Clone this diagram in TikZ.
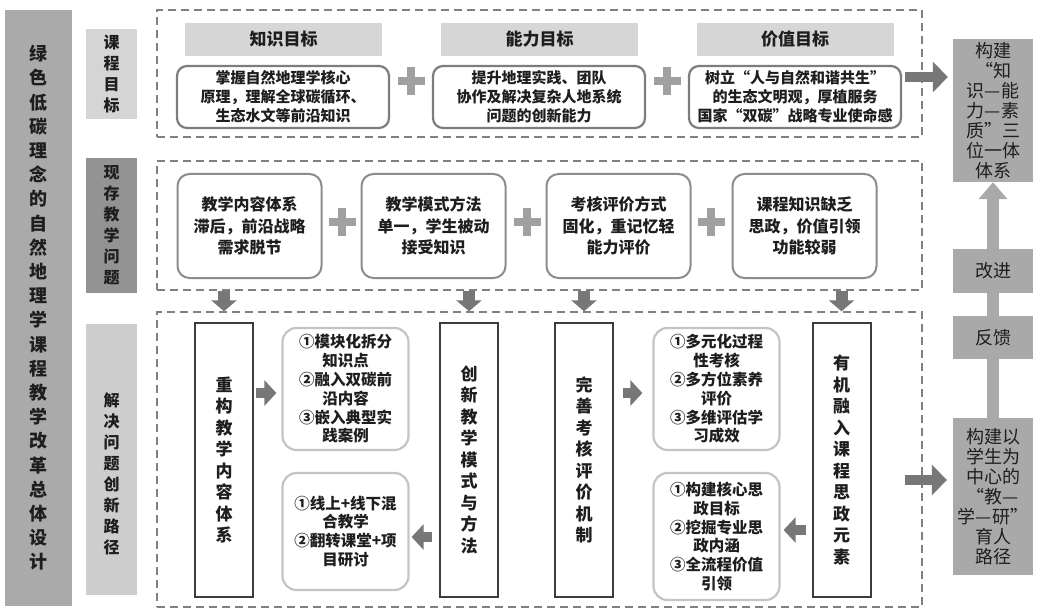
\documentclass[tikz,border=0pt]{standalone}
\usepackage{fontspec}
\setmainfont{Noto Sans CJK SC}
\usetikzlibrary{arrows.meta}
\definecolor{cleft}{HTML}{AAAAAA}
\definecolor{clabA}{HTML}{D5D5D5}
\definecolor{clabB}{HTML}{939393}
\definecolor{clabC}{HTML}{CDCDCD}
\definecolor{chdr}{HTML}{D6D6D6}
\definecolor{cgb}{HTML}{7D7D7D}
\definecolor{cpb}{HTML}{8C8C8C}
\definecolor{csb}{HTML}{C4C4C4}
\definecolor{ctb}{HTML}{3C3C3C}
\definecolor{crc}{HTML}{A9A9A9}
\definecolor{carr}{HTML}{777777}
\definecolor{cdash}{HTML}{808080}
\definecolor{cplus}{HTML}{A0A0A0}
\definecolor{ctxt}{HTML}{1E1E1E}
\begin{document}
\begin{tikzpicture}[x=1pt,y=-1pt,
  every node/.style={inner sep=0pt, align=center, text=ctxt},
  dbox/.style={draw=cdash, line width=1.4pt, dash pattern=on 8pt off 5pt, minimum width=765pt},
  lab/.style={minimum width=51pt, font=\bfseries\fontsize{16}{21}\selectfont},
  hdr/.style={fill=chdr, minimum width=197pt, minimum height=33pt, font=\bfseries\fontsize{17}{20}\selectfont},
  gbox/.style={draw=cgb, line width=2.2pt, fill=white, rounded corners=10pt, minimum width=212pt, minimum height=62pt, font=\bfseries\fontsize{15}{19}\selectfont},
  pbox/.style={draw=cpb, line width=2pt, fill=white, rounded corners=12pt, minimum width=144pt, minimum height=104pt, font=\bfseries\fontsize{16}{21.5}\selectfont},
  sbox/.style={draw=csb, line width=2.2pt, fill=white, rounded corners=14pt, minimum width=126pt, font=\bfseries\fontsize{15.5}{18.8}\selectfont},
  tbox/.style={draw=ctb, line width=2pt, fill=white, minimum width=58pt, minimum height=274pt, font=\bfseries\fontsize{17}{21.5}\selectfont},
  rbox/.style={fill=crc, minimum width=80pt, font=\fontsize{18}{20}\selectfont},
  darr/.style={draw=carr, line width=12pt, -{Triangle[width=25pt,length=11pt]}},
  sarr/.style={draw=carr, line width=10pt, -{Triangle[width=25pt,length=12pt]}},
  barr/.style={draw=carr, line width=10pt, -{Triangle[width=30pt,length=15pt]}},
  varr/.style={draw=crc, line width=12pt},
  pics/plusmark/.style={code={
    \fill[cplus] (-13.5,-4.2) rectangle (13.5,4.2);
    \fill[cplus] (-4.2,-14) rectangle (4.2,14);}}
]
\fill[white] (0,0) rectangle (1040,612);
\useasboundingbox (0,0) rectangle (1040,612);

% left column
\node[fill=cleft, minimum width=67pt, minimum height=596pt, font=\bfseries\fontsize{18}{24.2}\selectfont] (L) at (38.5,308)
 {绿\\色\\低\\碳\\理\\念\\的\\自\\然\\地\\理\\学\\课\\程\\教\\学\\改\\革\\总\\体\\设\\计};
\node[lab, fill=clabA, minimum height=90pt] (K1) at (111.5,74) {课\\程\\目\\标};
\node[lab, fill=clabB, minimum height=135pt] (K2) at (111.5,225.5) {现\\存\\教\\学\\问\\题};
\node[lab, fill=clabC, minimum height=271pt] (K3) at (111.5,459.5) {};
\node[lab] (K3t) at (111.5,473.5) {解\\决\\问\\题\\创\\新\\路\\径};

% dashed frames
\node[dbox, minimum height=127pt] (D1) at (539.5,73.5) {};
\node[dbox, minimum height=129pt] (D2) at (539.5,225.5) {};
\node[dbox, minimum height=295pt] (D3) at (539.5,459.5) {};

% row 1
\node[hdr] (H1) at (283.5,39.5) {知识目标};
\node[hdr] (H2) at (539.5,39.5) {能力目标};
\node[hdr] (H3) at (795,39.5) {价值目标};
\node[gbox] (G1) at (283,97) {掌握自然地理学核心\\原理，理解全球碳循环、\\生态水文等前沿知识};
\node[gbox] (G2) at (539,97) {提升地理实践、团队\\协作及解决复杂人地系统\\问题的创新能力};
\node[gbox] (G3) at (795,97) {树立“人与自然和谐共生”\\的生态文明观，厚植服务\\国家“双碳”战略专业使命感};
\pic at (411,81) {plusmark};
\pic at (667,81) {plusmark};

% row 2
\node[pbox] (B1) at (249.5,226) {教学内容体系\\滞后，前沿战略\\需求脱节};
\node[pbox] (B2) at (433.5,226) {教学模式方法\\单一，学生被动\\接受知识};
\node[pbox] (B3) at (618.5,226) {考核评价方式\\固化，重记忆轻\\能力评价};
\node[pbox] (B4) at (804.5,226) {课程知识缺乏\\思政，价值引领\\功能较弱};
\pic at (342,222) {plusmark};
\pic at (527,222) {plusmark};
\pic at (711,222) {plusmark};

% row 3
\node[tbox] (T1) at (224,460) {重\\构\\教\\学\\内\\容\\体\\系};
\node[tbox] (T2) at (469,460) {创\\新\\教\\学\\模\\式\\与\\方\\法};
\node[tbox] (T3) at (584,460) {完\\善\\考\\核\\评\\价\\机\\制};
\node[tbox] (T4) at (841.5,460) {有\\机\\融\\入\\课\\程\\思\\政\\元\\素};
\node[sbox, minimum height=122pt] (S1) at (345.5,389) {①模块化拆分\\知识点\\②融入双碳前\\沿内容\\③嵌入典型实\\践案例};
\node[sbox, minimum height=117pt] (S2) at (345.5,531.5) {①线上+线下混\\合教学\\②翻转课堂+项\\目研讨};
\node[sbox, minimum height=122pt] (S3) at (716.5,389) {①多元化过程\\性考核\\②多方位素养\\评价\\③多维评估学\\习成效};
\node[sbox, minimum height=127pt] (S4) at (716.5,536.5) {①构建核心思\\政目标\\②挖掘专业思\\政内涵\\③全流程价值\\引领};

% right column
\node[rbox, minimum height=143pt] (R1) at (993,110.5) {构建\\“知\\识—能\\力—素\\质”三\\位一体\\体系};
\node[rbox, minimum height=44pt] (IMP) at (993,271) {改进};
\node[rbox, minimum height=43pt] (FB) at (993,337.5) {反馈};
\node[rbox, minimum height=157pt] (R2) at (993,496.5) {构建以\\学生为\\中心的\\“教—\\学—研”\\育人\\路径};

% connectors
\draw[darr] (D2.south -| T1) -- (D3.north -| T1);
\draw[darr] (D2.south -| T2) -- (D3.north -| T2);
\draw[darr] (D2.south -| T3) -- (D3.north -| T3);
\draw[darr] (D2.south -| T4) -- (D3.north -| T4);

\draw[sarr, shorten <=2pt, shorten >=5pt] (T1.east |- 0,393) -- (S1.west |- 0,393);
\draw[sarr, shorten <=7pt, shorten >=2pt] (T2.west |- 0,537) -- (S2.east |- 0,537);
\draw[sarr, shorten <=9pt, shorten >=10pt] (T3.east |- 0,393) -- (S3.west |- 0,393);
\draw[sarr, shorten <=6pt, shorten >=3pt] (T4.west |- 0,530) -- (S4.east |- 0,530);

\coordinate (A1) at (905,77);
\coordinate (A2) at (905,480);
\draw[barr, shorten >=5pt] (A1) -- (R1.west |- A1);
\draw[barr, shorten >=6pt] (A2) -- (R2.west |- A2);

\draw[varr] (R2.north) -- (FB.south);
\draw[varr] (FB.north) -- (IMP.south);
\draw[varr, -{Triangle[width=28pt,length=17pt]}] (IMP.north) -- (R1.south);
\end{tikzpicture}
\end{document}
